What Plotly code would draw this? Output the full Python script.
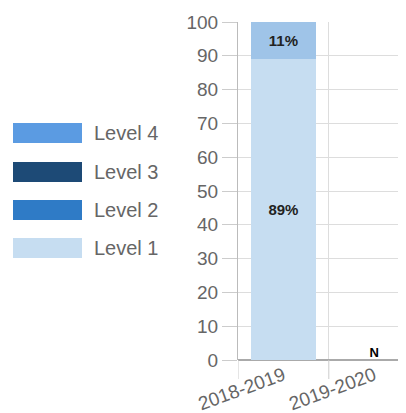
import plotly.graph_objects as go

# data
years = ["2018-2019", "2019-2020"]
levels = ["Level 1", "Level 2", "Level 3", "Level 4"]
values = {
    "Level 1": [89, None],
    "Level 2": [0, None],
    "Level 3": [0, None],
    "Level 4": [11, None],
}
labels = {
    "Level 1": ["89%", ""],
    "Level 2": ["", ""],
    "Level 3": ["", ""],
    "Level 4": ["11%", ""],
}
no_data = ["", "N"]

bar_colors = {"Level 1": "#c6ddf1", "Level 2": "#2f7bc6",
              "Level 3": "#1d4a76", "Level 4": "#9fc4e8"}
legend_colors = {"Level 1": "#c6ddf1", "Level 2": "#2f7bc6",
                 "Level 3": "#1d4a76", "Level 4": "#5b9be2"}

# page has an 8px body margin, so figure is drawn 8px in from the corner
OFF = 8
W, H = 398, 405
L, R, T, B = 230, 0, 14, 53

def px_x(p):
    return (p - OFF - L) / (W - L - R)

def px_y(p):
    return (H - B - (p - OFF)) / (H - T - B)

fig = go.Figure()
for lv in levels:
    fig.add_trace(go.Bar(
        x=years, y=values[lv], name=lv,
        marker=dict(color=bar_colors[lv], line=dict(width=0)),
        text=labels[lv], textposition="inside", insidetextanchor="middle",
        textfont=dict(family="Liberation Sans", size=15, color="#222222"),
        texttemplate="<b>%{text}</b>",
        width=0.72, showlegend=False, hoverinfo="skip",
    ))

# "N" marker for years with no data
fig.add_trace(go.Scatter(
    x=years, y=[0, 0], mode="text", text=no_data,
    textposition="top center",
    textfont=dict(family="Liberation Sans", size=13, color="#000000"),
    texttemplate="<b>%{text}</b>", showlegend=False, hoverinfo="skip",
))

# category boundary ticks below the axis
for i in range(len(years)):
    fig.add_shape(type="line", xref="x", yref="paper",
                  x0=i - 0.5, x1=i - 0.5, y0=px_y(379), y1=0,
                  line=dict(color="#cccccc", width=1))

# hand-drawn legend with wide swatches
legend_y = [133, 172, 210, 248]
for lv, py in zip(reversed(levels), legend_y):
    fig.add_shape(type="rect", xref="paper", yref="paper",
                  x0=px_x(13), x1=px_x(82), y0=px_y(py + 10), y1=px_y(py - 10),
                  fillcolor=legend_colors[lv], line=dict(width=0))
    fig.add_annotation(xref="paper", yref="paper", x=px_x(92), y=px_y(py),
                       text=lv, showarrow=False, xanchor="left", yanchor="middle",
                       font=dict(family="Liberation Sans", size=20, color="#666666"))

fig.update_layout(
    width=W, height=H,
    margin=dict(l=L, r=R, t=T, b=B, autoexpand=False),
    barmode="stack",
    paper_bgcolor="white",
    plot_bgcolor="white",
    font=dict(family="Liberation Sans", color="#666666"),
    uniformtext=dict(mode="show", minsize=10),
)

fig.update_xaxes(
    range=[-0.5, 1.35], tickson="boundaries", ticks="", ticklen=0,
    showgrid=True, gridcolor="#dddddd",
    tickangle=-20, tickfont=dict(size=19, color="#666666"),
    showline=False, automargin=False,
)
fig.update_yaxes(
    range=[0, 100], dtick=10, ticks="outside", ticklen=15, tickcolor="#cccccc",
    gridcolor="#dddddd", showline=True, linecolor="#bbbbbb",
    zeroline=True, zerolinecolor="#aaaaaa",
    tickfont=dict(size=19, color="#666666"), automargin=False,
)

fig.write_html("out.html")
